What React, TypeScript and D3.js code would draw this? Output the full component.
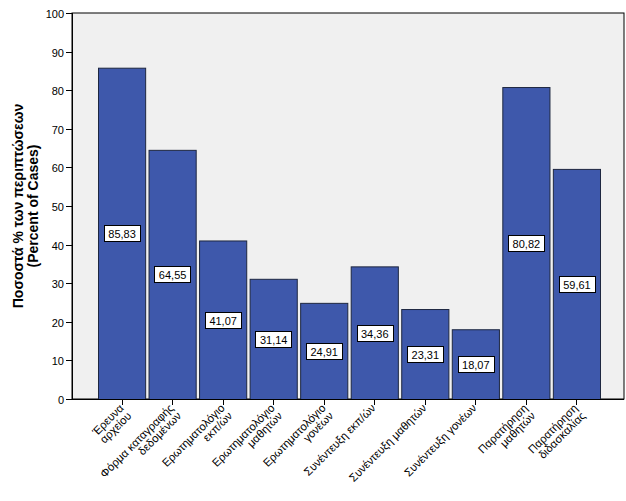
import React from "react";
import * as d3 from "d3";

const categories: string[][] = [
  ["Έρευνα", "αρχείου"],
  ["Φόρμα καταγραφής", "δεδομένων"],
  ["Ερωτηματολόγιο", "εκπ/ών"],
  ["Ερωτηματολόγιο", "μαθητών"],
  ["Ερωτηματολόγιο", "γονέων"],
  ["Συνέντευξη εκπ/ών"],
  ["Συνέντευξη μαθητών"],
  ["Συνέντευξη γονέων"],
  ["Παρατήρηση", "μαθητών"],
  ["Παρατήρηση", "διδασκαλίας"],
];
const values: number[] = [85.83, 64.55, 41.07, 31.14, 24.91, 34.36, 23.31, 18.07, 80.82, 59.61];
const yTicks: number[] = [0, 10, 20, 30, 40, 50, 60, 70, 80, 90, 100];
const yTitle: string[] = ["Ποσοστά % των περιπτώσεων", "(Percent of Cases)"];

const W = 626;
const H = 501;
const plot = { left: 72, right: 624, top: 13, bottom: 399 };
const FONT = "'Liberation Sans', Arial, sans-serif";

export default function App() {
  const ids = categories.map((_, i) => String(i));
  const x = d3
    .scaleBand<string>()
    .domain(ids)
    .range([98, 600])
    .paddingInner(0.067)
    .paddingOuter(0);
  const y = d3.scaleLinear().domain([0, 100]).range([plot.bottom, plot.top]);
  const fmt = (v: number) => d3.format(".2f")(v).replace(".", ",");
  const charW = 6.1;

  return (
    <svg
      width={W}
      height={H}
      style={{ position: "absolute", left: 0, top: 0, background: "#fff" }}
      fontFamily={FONT}
    >
      <rect
        x={plot.left}
        y={plot.top}
        width={plot.right - plot.left}
        height={plot.bottom - plot.top}
        fill="#f0f0f0"
        stroke="#000"
        strokeWidth={1}
      />
      {values.map((v, i) => {
        const bx = x(ids[i])!;
        const bw = x.bandwidth();
        const by = y(v);
        const label = fmt(v);
        const lw = label.length * charW + 5;
        const cy = y(v / 2);
        return (
          <g key={i}>
            <rect
              x={bx + 0.5}
              y={by + 0.5}
              width={bw}
              height={plot.bottom - by}
              fill="#3e58ab"
              stroke="#1e2740"
              strokeWidth={1}
            />
            <rect
              x={Math.round(bx + bw / 2 - lw / 2) + 0.5}
              y={Math.round(cy - 8) + 0.5}
              width={Math.round(lw)}
              height={16}
              fill="#fff"
              stroke="#000"
              strokeWidth={1}
            />
            <text
              x={bx + bw / 2 + 0.5}
              y={Math.round(cy - 8) + 12.5}
              textAnchor="middle"
              fontSize={11}
              fill="#000"
            >
              {label}
            </text>
          </g>
        );
      })}
      <line x1={plot.left + 0.5} x2={plot.left + 0.5} y1={plot.top} y2={plot.bottom} stroke="#000" />
      <line x1={plot.left} x2={plot.right} y1={plot.bottom + 0.5} y2={plot.bottom + 0.5} stroke="#000" />
      {yTicks.map((t) => (
        <g key={t} transform={`translate(0,${Math.round(y(t)) + 0.5})`}>
          <line x1={66} x2={plot.left} stroke="#000" />
          <text x={64} y={4} textAnchor="end" fontSize={11} fill="#000">
            {t}
          </text>
        </g>
      ))}
      {categories.map((lines, i) => {
        const cx = Math.round(x(ids[i])! + x.bandwidth() / 2) + 0.5;
        return (
          <g key={i}>
            <line x1={cx} x2={cx} y1={plot.bottom} y2={plot.bottom + 6} stroke="#000" />
            <g transform={`translate(${cx - 1},${plot.bottom + 7}) rotate(-45)`}>
              {lines.map((l, j) => (
                <text key={j} x={0} y={4 + j * 11} textAnchor="end" fontSize={11.3} fill="#000">
                  {l}
                </text>
              ))}
            </g>
          </g>
        );
      })}
      <g transform={`translate(23,206) rotate(-90)`}>
        {yTitle.map((l, j) => (
          <text key={j} x={0} y={j * 15} textAnchor="middle" fontSize={14} fontWeight="bold" fill="#000">
            {l}
          </text>
        ))}
      </g>
    </svg>
  );
}
